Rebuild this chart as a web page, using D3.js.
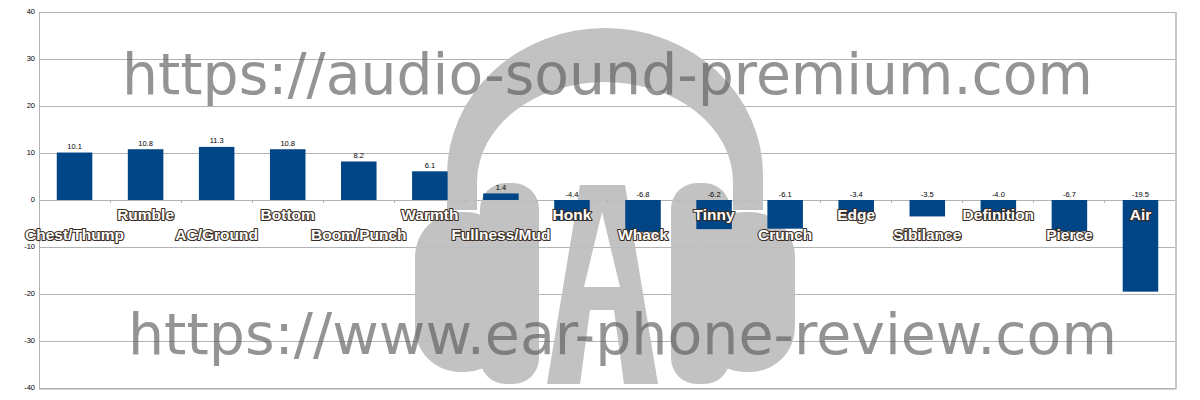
<!DOCTYPE html>
<html>
<head>
<meta charset="utf-8">
<script src="https://cdn.jsdelivr.net/npm/d3@7"></script>
<style>
  html, body { margin: 0; padding: 0; background: #fff; }
  svg { display: block; }
</style>
</head>
<body>
<svg id="chart" width="1200" height="400"></svg>
<script>
const categories = ["Chest/Thump","Rumble","AC/Ground","Bottom","Boom/Punch","Warmth","Fullness/Mud","Honk","Whack","Tinny","Crunch","Edge","Sibilance","Definition","Pierce","Air"];
const values = [10.1, 10.8, 11.3, 10.8, 8.2, 6.1, 1.4, -4.4, -6.8, -6.2, -6.1, -3.4, -3.5, -4.0, -6.7, -19.5];
const yTicks = [-40, -30, -20, -10, 0, 10, 20, 30, 40];
const watermarks = ["https://audio-sound-premium.com", "https://www.ear-phone-review.com"];

(function () {
const svg = d3.select("#chart");
const pLeft = 39, pRight = 1176, pTop = 12, pBottom = 388;

const x = d3.scaleBand().domain(categories).range([pLeft, pRight]).paddingInner(0.5).paddingOuter(0.25);
const xb = d3.scaleBand().domain(categories).range([pLeft, pRight]);
const y = d3.scaleLinear().domain([-40, 40]).range([pBottom, pTop]);

// gridlines
svg.append("g").selectAll("line").data(yTicks).join("line")
  .attr("x1", pLeft).attr("x2", pRight)
  .attr("y1", d => y(d)).attr("y2", d => y(d))
  .attr("stroke", "#b3b3b3").attr("stroke-width", 1).attr("shape-rendering", "crispEdges");

// left axis line & right border
svg.append("line").attr("x1", pLeft).attr("x2", pLeft).attr("y1", pTop).attr("y2", pBottom)
  .attr("stroke", "#b3b3b3").attr("shape-rendering", "crispEdges");
svg.append("line").attr("x1", pRight).attr("x2", pRight).attr("y1", pTop).attr("y2", pBottom + 1)
  .attr("stroke", "#c8c8c8").attr("stroke-width", 2).attr("shape-rendering", "crispEdges");
svg.append("line").attr("x1", pLeft).attr("x2", pRight).attr("y1", pBottom + 1).attr("y2", pBottom + 1)
  .attr("stroke", "#d0d0d0").attr("stroke-width", 1).attr("shape-rendering", "crispEdges");

// y labels
svg.append("g").selectAll("text").data(yTicks).join("text")
  .attr("x", 35).attr("y", d => y(d)).attr("dy", "0.3em")
  .attr("text-anchor", "end")
  .attr("font-family", "Liberation Sans, sans-serif").attr("font-size", 7.5).attr("fill", "#000")
  .text(d => d);

// logo (decorative watermark)
const logo = svg.append("g").attr("fill", "#bfbfbf").attr("opacity", 0.95);
logo.append("path").attr("d", "M447,210 L447,175 A158,147 0 0 1 763,175 L763,210 L733,210 L733,182 A128,100 0 0 0 477,182 L477,210 Z");
logo.append("rect").attr("x", 480).attr("y", 183).attr("width", 59).attr("height", 201).attr("rx", 26);
logo.append("rect").attr("x", 415).attr("y", 212).attr("width", 95).attr("height", 160).attr("rx", 45);
logo.append("rect").attr("x", 671).attr("y", 183).attr("width", 59).attr("height", 201).attr("rx", 26);
logo.append("rect").attr("x", 700).attr("y", 212).attr("width", 95).attr("height", 160).attr("rx", 45);
logo.append("path").attr("fill-rule", "evenodd")
  .attr("d", "M547,384 L580,185 L625,185 L658,384 L624,384 L614,310 L590,310 L580,384 Z M602,212 L620,287 L584,287 Z");

// x ticks at boundaries on zero line
svg.append("g").selectAll("line").data(categories.slice(1)).join("line")
  .attr("x1", d => xb(d)).attr("x2", d => xb(d))
  .attr("y1", y(0)).attr("y2", y(0) + 3)
  .attr("stroke", "#b3b3b3").attr("shape-rendering", "crispEdges");

// bars
svg.append("g").selectAll("rect").data(values).join("rect")
  .attr("x", (d, i) => x(categories[i]))
  .attr("width", x.bandwidth())
  .attr("y", d => y(Math.max(0, d)))
  .attr("height", d => Math.abs(y(d) - y(0)))
  .attr("fill", "#004586");

// value labels
svg.append("g").selectAll("text").data(values).join("text")
  .attr("x", (d, i) => x(categories[i]) + x.bandwidth() / 2)
  .attr("y", d => y(Math.max(0, d)) - 3.5)
  .attr("text-anchor", "middle")
  .attr("font-family", "Liberation Sans, sans-serif").attr("font-size", 7.5).attr("fill", "#000")
  .text(d => d.toFixed(1));

// category labels, alternating rows, outlined
svg.append("g").selectAll("text").data(categories).join("text")
  .attr("x", d => xb(d) + xb.bandwidth() / 2)
  .attr("y", (d, i) => i % 2 === 1 ? 220 : 240)
  .attr("text-anchor", "middle")
  .attr("font-family", "Liberation Sans, Arial, sans-serif").attr("font-weight", "bold").attr("font-size", 15.5)
  .attr("fill", "#ffffff").attr("stroke", "#3a2c22").attr("stroke-width", 2.2)
  .attr("stroke-linejoin", "round").attr("paint-order", "stroke")
  .text(d => d);

// watermark texts
const wm = svg.append("g").attr("font-family", "DejaVu Sans, sans-serif").attr("fill", "#5e5e5e").attr("opacity", 0.66);
const wmSpecs = [{x0: 122, x1: 1093, base: 94}, {x0: 128, x1: 1117, base: 354}];
watermarks.forEach((t, i) => {
  const el = wm.append("text").attr("x", wmSpecs[i].x0).attr("y", wmSpecs[i].base).attr("font-size", 54).text(t);
  const w = el.node().getComputedTextLength();
  const fs = 54 * (wmSpecs[i].x1 - wmSpecs[i].x0) / w;
  el.attr("font-size", fs);
});
})();
</script>
</body>
</html>
